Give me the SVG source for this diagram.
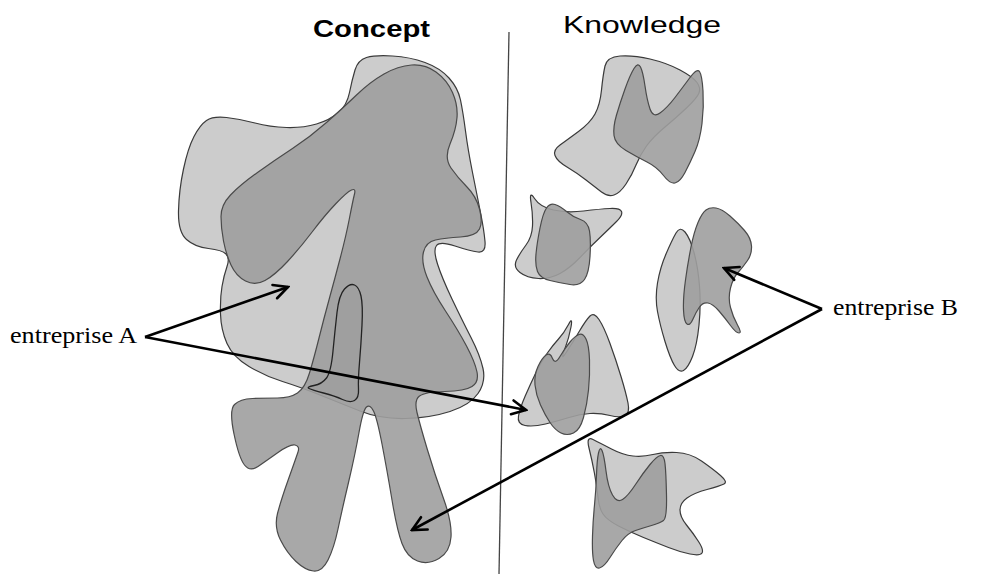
<svg xmlns="http://www.w3.org/2000/svg" width="987" height="574" viewBox="0 0 987 574">
<defs>
<style>
.light{fill:#cccccc;stroke:#3a3a3a;stroke-width:1.2}
.dark{fill:#9e9e9e;fill-opacity:0.9;stroke:#4a4a4a;stroke-width:1.2}
.finger{fill:#9e9e9e;fill-opacity:0.9;stroke:#222;stroke-width:1.3}
.title{font-family:"Liberation Sans",Arial,sans-serif;font-size:24px;fill:#000}
.lab{font-family:"Liberation Serif","Times New Roman",serif;font-size:24px;fill:#000}
.arrow{fill:none;stroke:#000;stroke-width:2.6;marker-end:url(#head)}
</style>
<marker id="head" viewBox="0 0 18 18" refX="16" refY="9" markerWidth="18" markerHeight="18" markerUnits="userSpaceOnUse" orient="auto">
<path d="M2,2 L16,9 L2,16" fill="none" stroke="#000" stroke-width="2.6" stroke-linecap="round" stroke-linejoin="miter"/>
</marker>
</defs>
<rect width="987" height="574" fill="#fff"/>

<g id="divider"><line x1="509" y1="32" x2="499" y2="574" stroke="#444" stroke-width="1.3"/></g>

<g id="concept-light"><path class="light" d="M 206.5,120.5 Q 213,116 226.5,117.5 Q 240,119 255,123 Q 270,127 286.5,127.5 Q 303,128 316.5,124 Q 330,120 338.5,112.5 Q 347,105 349.5,92.5 Q 352,80 355,70 Q 358,60 366.5,57.5 Q 375,55 392.5,56 Q 410,57 425,62.5 Q 440,68 449,78 Q 458,88 460.5,100 Q 463,112 465.5,131 Q 468,150 472.5,172.5 Q 477,195 480.5,212.5 Q 484,230 485,241.5 Q 486,253 478,252 Q 470,251 455,246 Q 440,241 436.5,245.5 Q 433,250 437.5,264 Q 442,278 452,299 Q 462,320 471,337.5 Q 480,355 483,368.5 Q 486,382 478,393.5 Q 470,405 450,411.5 Q 430,418 405,418.5 Q 380,419 360,411 Q 340,403 320,395 Q 300,387 282.5,381.5 Q 265,376 249,366.5 Q 233,357 227,343.5 Q 221,330 220.5,314 Q 220,298 222,286.5 Q 224,275 227,266.5 Q 230,258 226,254 Q 222,250 208.5,248.5 Q 195,247 186.5,239.5 Q 178,232 178.5,211 Q 179,190 183.5,169 Q 188,148 194,136.5 Q 200,125 206.5,120.5 Z"/></g>

<g id="concept-dark"><path class="dark" d="M 221,216.5 Q 221,205 230.5,195 Q 240,185 257.5,172.5 Q 275,160 292.5,148.5 Q 310,137 326.5,122.5 Q 343,108 356.5,95 Q 370,82 384,74 Q 398,66 411.5,65 Q 425,64 436,72 Q 447,80 452.5,92.5 Q 458,105 457,117.5 Q 456,130 450,144 Q 444,158 451,168 Q 458,178 467,187 Q 476,196 479.5,209 Q 483,222 479.5,229 Q 476,236 460.5,237 Q 445,238 435.5,240 Q 426,242 423.5,252 Q 421,262 427,277 Q 433,292 445.5,311 Q 458,330 466.5,346 Q 475,362 477,372 Q 479,382 472,386.5 Q 465,391 445,391.5 Q 425,392 419.5,396 Q 414,400 417,412.5 Q 420,425 427.5,450 Q 435,475 443.5,498.5 Q 452,522 451,537 Q 450,552 439,558.5 Q 428,565 417.5,561 Q 407,557 402,543.5 Q 397,530 392,500 Q 387,470 382,444 Q 377,418 373.5,411 Q 370,404 366.5,407 Q 363,410 359,432.5 Q 355,455 348.5,482.5 Q 342,510 338,529 Q 334,548 328,560 Q 322,572 313.5,571 Q 305,570 296,561.5 Q 287,553 280.5,540 Q 274,527 277.5,513.5 Q 281,500 288.5,479 Q 296,458 298,452 Q 300,446 295,445 Q 290,444 278,452.5 Q 266,461 258,466.5 Q 250,472 244.5,465 Q 239,458 234,434 Q 229,410 234.5,404.5 Q 240,399 252.5,398.5 Q 265,398 277.5,398 Q 290,398 297.5,393 Q 305,388 309.5,373 Q 314,358 319,338 Q 324,318 329.5,298 Q 335,278 340.5,257 Q 346,236 349.5,218 Q 353,200 354.5,194 Q 356,188 351.5,190 Q 347,192 336,203.5 Q 325,215 312.5,231.5 Q 300,248 287.5,261.5 Q 275,275 265,280.5 Q 255,286 245.5,281 Q 236,276 231,265 Q 226,254 223.5,241 Q 221,228 221,216.5 Z"/></g>

<g id="concept-finger"><path class="finger" d="M 344.5,289 Q 350,283 354.5,285 Q 359,287 361,296 Q 363,305 362,325 Q 361,345 359.5,362.5 Q 358,380 358.5,389 Q 359,398 354.5,400.5 Q 350,403 342.5,399.5 Q 335,396 323.5,393 Q 312,390 309,388.5 Q 306,387 314,385.5 Q 322,384 326.5,378 Q 331,372 333,351 Q 335,330 337,312.5 Q 339,295 344.5,289 Z"/></g>

<g id="k1">
<path class="light" d="M 605,66 Q 607,57 620,56 Q 633,55 650,59 Q 667,63 680,70 Q 693,77 697,82.5 Q 701,88 699,93 Q 697,98 687,107.5 Q 677,117 665,127 Q 653,137 646.5,146 Q 640,155 636,165 Q 632,175 626,184 Q 620,193 614,195 Q 608,197 601.5,192 Q 595,187 586,180 Q 577,173 567,167 Q 557,161 555,155.5 Q 553,150 560,145 Q 567,140 578.5,131.5 Q 590,123 595,114 Q 600,105 601.5,90 Q 603,75 605,66 Z"/>
<path class="dark" d="M 634,68.5 Q 638,62 640.5,67 Q 643,72 645,86 Q 647,100 650,109 Q 653,118 660,113 Q 667,108 675,97.5 Q 683,87 690,77.5 Q 697,68 699.5,71.5 Q 702,75 703,91 Q 704,107 702,123.5 Q 700,140 695,151.5 Q 690,163 685,172.5 Q 680,182 675,183 Q 670,184 663.5,175.5 Q 657,167 647,162 Q 637,157 626,150.5 Q 615,144 614,135.5 Q 613,127 616.5,115 Q 620,103 625,89 Q 630,75 634,68.5 Z"/>
</g>

<g id="k2">
<path class="light" d="M 531,202.5 Q 529,190 534.5,198.5 Q 540,207 553.5,210 Q 567,213 583.5,211 Q 600,209 610,208.5 Q 620,208 621.5,211.5 Q 623,215 616.5,221.5 Q 610,228 600,237.5 Q 590,247 580,257.5 Q 570,268 560,273.5 Q 550,279 538.5,278.5 Q 527,278 520,272.5 Q 513,267 516.5,260 Q 520,253 526,245 Q 532,237 532.5,226 Q 533,215 531,202.5 Z"/>
<path class="dark" d="M 546.5,208 Q 550,203 555,204.5 Q 560,206 566.5,211.5 Q 573,217 580.5,219.5 Q 588,222 589.5,231 Q 591,240 590,256.5 Q 589,273 584.5,279.5 Q 580,286 570,284.5 Q 560,283 550,280.5 Q 540,278 537.5,271.5 Q 535,265 536,254 Q 537,243 540,228 Q 543,213 546.5,208 Z"/>
</g>

<g id="k3">
<path class="light" d="M 676,233 Q 680,226 685,232 Q 690,238 694,252.5 Q 698,267 699.5,286 Q 701,305 699,325 Q 697,345 692.5,356.5 Q 688,368 683.5,370.5 Q 679,373 674.5,365.5 Q 670,358 665,341.5 Q 660,325 657.5,311.5 Q 655,298 657.5,283 Q 660,268 666,254 Q 672,240 676,233 Z"/>
<path class="dark" d="M 706,210 Q 710,207 716,208 Q 722,209 730,216 Q 738,223 744.5,230.5 Q 751,238 751.5,246 Q 752,254 747.5,260.5 Q 743,267 738,272.5 Q 733,278 730.5,288 Q 728,298 730.5,307.5 Q 733,317 737.5,325 Q 742,333 739,333 Q 736,333 730.5,325.5 Q 725,318 719,311 Q 713,304 708,303 Q 703,302 699.5,307 Q 696,312 693,319 Q 690,326 687,324 Q 684,322 683.5,310 Q 683,298 685.5,280 Q 688,262 691,247 Q 694,232 698,222.5 Q 702,213 706,210 Z"/>
</g>

<g id="k4">
<path class="light" d="M 590,316 Q 594,312 599,319.5 Q 604,327 610,343.5 Q 616,360 621,376.5 Q 626,393 628,403 Q 630,413 625,415.5 Q 620,418 610,415.5 Q 600,413 590,413.5 Q 580,414 569,417.5 Q 558,421 545.5,424 Q 533,427 525,425.5 Q 517,424 518.5,416 Q 520,408 525,396.5 Q 530,385 535.5,373.5 Q 541,362 547,353.5 Q 553,345 558.5,339 Q 564,333 568.5,324.5 Q 573,316 571,327 Q 569,338 564.5,350 Q 560,362 566.5,352 Q 573,342 579.5,331 Q 586,320 590,316 Z"/>
<path class="dark" d="M 579,334.5 Q 583,333 586,339 Q 589,345 589.5,360 Q 590,375 588.5,390 Q 587,405 583.5,417.5 Q 580,430 573.5,433 Q 567,436 561,433 Q 555,430 550,422.5 Q 545,415 540.5,405 Q 536,395 535,385 Q 534,375 538,366.5 Q 542,358 546,355 Q 550,352 552.5,358.5 Q 555,365 560,356.5 Q 565,348 570,342 Q 575,336 579,334.5 Z"/>
</g>

<g id="k5">
<path class="light" d="M 589,448 Q 586,436 593,439.5 Q 600,443 611.5,449 Q 623,455 633,456 Q 643,457 653,454.5 Q 663,452 676.5,452.5 Q 690,453 701.5,461 Q 713,469 720.5,475.5 Q 728,482 724,484 Q 720,486 707,489.5 Q 694,493 687,498 Q 680,503 680,510 Q 680,517 686.5,525 Q 693,533 698.5,541.5 Q 704,550 702,553 Q 700,556 690,554 Q 680,552 668.5,547.5 Q 657,543 643.5,537.5 Q 630,532 618.5,526 Q 607,520 603,514 Q 599,508 598,497.5 Q 597,487 594.5,473.5 Q 592,460 589,448 Z"/>
<path class="dark" d="M 598.5,453 Q 600,446 602,450.5 Q 604,455 606,471 Q 608,487 612.5,495 Q 617,503 622.5,499.5 Q 628,496 635.5,484.5 Q 643,473 650,464.5 Q 657,456 660.5,455.5 Q 664,455 665,463.5 Q 666,472 666.5,495 Q 667,518 663.5,520.5 Q 660,523 651.5,525.5 Q 643,528 635.5,530.5 Q 628,533 622,540.5 Q 616,548 610,557.5 Q 604,567 599.5,568 Q 595,569 593.5,560.5 Q 592,552 592.5,536 Q 593,520 594.5,505 Q 596,490 596.5,475 Q 597,460 598.5,453 Z"/>
</g>

<g id="title-concept"><text class="title" x="313" y="37" font-weight="bold" textLength="117" lengthAdjust="spacingAndGlyphs">Concept</text></g>
<g id="title-knowledge"><text class="title" x="563" y="33" textLength="158" lengthAdjust="spacingAndGlyphs">Knowledge</text></g>
<g id="label-a"><text class="lab" x="10" y="343" textLength="127" lengthAdjust="spacingAndGlyphs">entreprise A</text></g>
<g id="label-b"><text class="lab" x="833" y="315" textLength="125" lengthAdjust="spacingAndGlyphs">entreprise B</text></g>

<g id="connectors">
<line class="arrow" x1="145" y1="337" x2="288" y2="287"/>
<line class="arrow" x1="145" y1="337" x2="526" y2="410"/>
<line class="arrow" x1="822" y1="309" x2="724" y2="268"/>
<line class="arrow" x1="822" y1="309" x2="412" y2="530"/>
</g>
</svg>
